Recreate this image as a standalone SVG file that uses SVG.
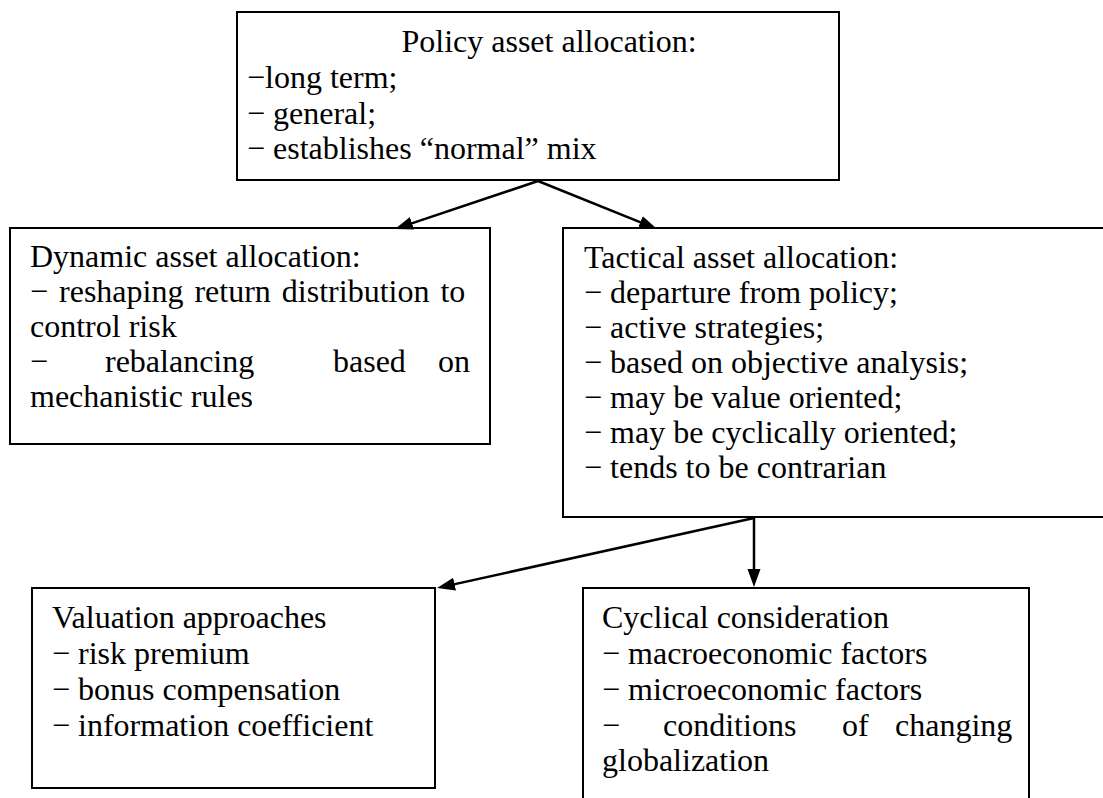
<svg xmlns="http://www.w3.org/2000/svg" width="1103" height="798" viewBox="0 0 1103 798">
<defs>
<style>
.box{fill:#fff;stroke:#000;stroke-width:2}
.t{font-family:"Liberation Serif","Times New Roman",serif;font-size:32px;fill:#000}
.c{stroke:#000;stroke-width:2.5;fill:none}
</style>
<marker id="ah" markerUnits="userSpaceOnUse" markerWidth="19" markerHeight="14" refX="9" refY="6.5" orient="auto">
<path d="M0,0 L18,6.5 L0,13 z" fill="#000"/>
</marker>
</defs>
<rect width="1103" height="798" fill="#fff"/>
<g id="policy">
<rect class="box" x="237" y="12" width="602" height="168"/>
<text class="t" x="549" y="52" text-anchor="middle">Policy asset allocation:</text>
<text class="t" x="247" y="88">−long term;</text>
<text class="t" x="247" y="124">− general;</text>
<text class="t" x="247" y="159">− establishes “normal” mix</text>
</g>
<g id="dynamic">
<rect class="box" x="10" y="228" width="480" height="216"/>
<text class="t" x="30" y="267">Dynamic asset allocation:</text>
<text class="t" x="30" y="302" word-spacing="3">− reshaping return distribution to</text>
<text class="t" x="30" y="337">control risk</text>
<text class="t" y="372"><tspan x="30">−</tspan><tspan x="105">rebalancing</tspan><tspan x="333">based</tspan><tspan x="438">on</tspan></text>
<text class="t" x="30" y="407">mechanistic rules</text>
</g>
<g id="tactical">
<rect class="box" x="563" y="228" width="545" height="289"/>
<text class="t" x="584" y="268">Tactical asset allocation:</text>
<text class="t" x="584" y="303">− departure from policy;</text>
<text class="t" x="584" y="338">− active strategies;</text>
<text class="t" x="584" y="373">− based on objective analysis;</text>
<text class="t" x="584" y="408">− may be value oriented;</text>
<text class="t" x="584" y="443">− may be cyclically oriented;</text>
<text class="t" x="584" y="478">− tends to be contrarian</text>
</g>
<g id="valuation">
<rect class="box" x="32" y="588" width="403" height="200"/>
<text class="t" x="52" y="628">Valuation approaches</text>
<text class="t" x="52" y="664">− risk premium</text>
<text class="t" x="52" y="700">− bonus compensation</text>
<text class="t" x="52" y="736">− information coefficient</text>
</g>
<g id="cyclical">
<rect class="box" x="583" y="588" width="446" height="230"/>
<text class="t" x="602" y="628">Cyclical consideration</text>
<text class="t" x="602" y="664">− macroeconomic factors</text>
<text class="t" x="602" y="700">− microeconomic factors</text>
<text class="t" y="736"><tspan x="602">−</tspan><tspan x="663">conditions</tspan><tspan x="842">of</tspan><tspan x="895">changing</tspan></text>
<text class="t" x="602" y="771">globalization</text>
</g>
<g id="connectors">
<path class="c" d="M538,181 L403.5,226.1" marker-end="url(#ah)"/>
<path class="c" d="M538,181 L648.7,225.6" marker-end="url(#ah)"/>
<path class="c" d="M754,518 L445.8,586.1" marker-end="url(#ah)"/>
<path class="c" d="M754,518 L754,578" marker-end="url(#ah)"/>
</g>
</svg>
